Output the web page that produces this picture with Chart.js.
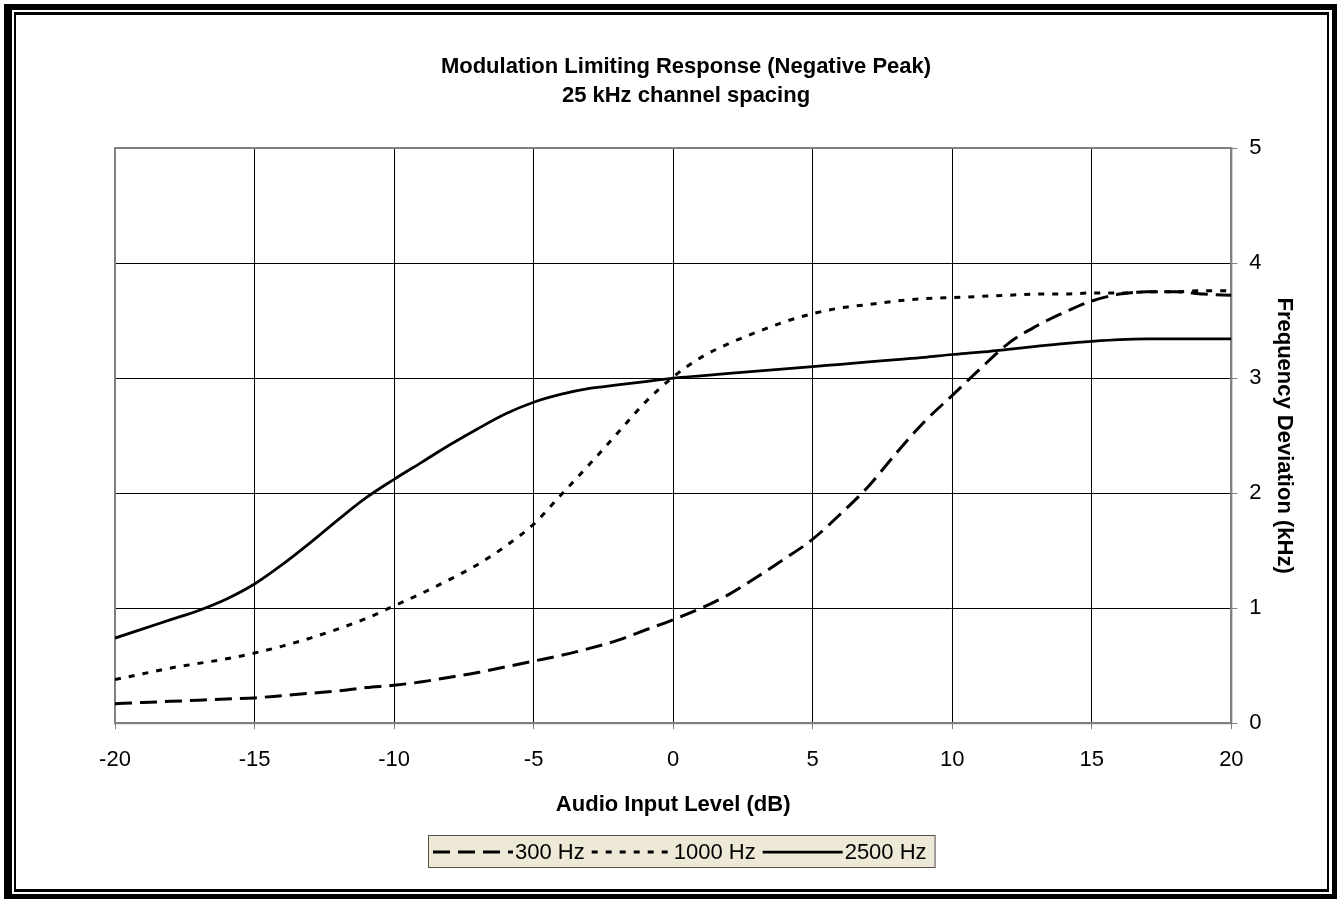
<!DOCTYPE html>
<html lang="en">
<head>
  <meta charset="UTF-8">
  <title>Modulation Limiting Response</title>
  <script src="https://cdn.jsdelivr.net/npm/chart.js"></script>
  <style>
    html, body { margin: 0; padding: 0; background: #fff; }
    #wrap { position: relative; width: 1341px; height: 899px; overflow: hidden; }
    #chart { position: absolute; left: 0; top: 0; }
    /* double frame around the whole chart */
    .outer { position: absolute; left: 4px; top: 4px; width: 1333px; height: 895px; box-sizing: border-box;
             border-style: solid; border-color: #000; border-width: 6px 5px 5px 8px; pointer-events: none; }
    .inner { position: absolute; left: 14px; top: 12px; width: 1315px; height: 880px; box-sizing: border-box;
             border-style: solid; border-color: #000; border-width: 3px 2px 3px 2px; pointer-events: none; }
  </style>
</head>
<body>
  <div id="wrap">
    <canvas id="chart" width="1341" height="899"></canvas>
    <div class="outer"></div>
    <div class="inner"></div>
  </div>

  <script>
    // Audio input level (dB)
    const inputLevels = [-20, -19, -18, -17, -16, -15, -14, -13, -12, -11, -10, -9, -8, -7, -6, -5, -4, -3, -2, -1,
                         0, 1, 2, 3, 4, 5, 6, 7, 8, 9, 10, 11, 12, 13, 14, 15, 16, 17, 18, 19, 20];

    // Frequency deviation (kHz) per tone
    const dev300 = [0.17, 0.18, 0.19, 0.20, 0.21, 0.22, 0.24, 0.26, 0.28, 0.31, 0.33, 0.36, 0.40, 0.44, 0.49, 0.54, 0.59, 0.65, 0.72, 0.81,
                    0.90, 1.00, 1.12, 1.27, 1.43, 1.60, 1.82, 2.06, 2.35, 2.62, 2.85, 3.08, 3.30, 3.45, 3.57, 3.67, 3.73, 3.75, 3.75, 3.73, 3.72];
    const dev1000 = [0.38, 0.43, 0.48, 0.52, 0.56, 0.61, 0.67, 0.74, 0.82, 0.91, 1.02, 1.13, 1.25, 1.38, 1.54, 1.73, 1.99, 2.25, 2.52, 2.79,
                     3.01, 3.18, 3.30, 3.40, 3.49, 3.56, 3.61, 3.64, 3.67, 3.69, 3.70, 3.71, 3.72, 3.73, 3.73, 3.74, 3.74, 3.75, 3.75, 3.76, 3.76];
    const dev2500 = [0.74, 0.82, 0.90, 0.98, 1.08, 1.21, 1.38, 1.57, 1.77, 1.96, 2.12, 2.27, 2.42, 2.56, 2.69, 2.79, 2.86, 2.91, 2.94, 2.97,
                     3.00, 3.02, 3.04, 3.06, 3.08, 3.10, 3.12, 3.14, 3.16, 3.18, 3.205, 3.225, 3.25, 3.275, 3.30, 3.32, 3.335, 3.34, 3.34, 3.34, 3.34];

    const seriesNames = ['300 Hz', '1000 Hz', '2500 Hz'];
    const titleLines = ['Modulation Limiting Response (Negative Peak)', '25 kHz channel spacing'];
    const xRange = [-20, 20];
    const yRange = [0, 5];

    const FONT = '"Liberation Sans", Arial, sans-serif';

    function toPoints(values) {
      return values.map((v, i) => ({ x: inputLevels[i], y: v }));
    }

    // gray frame round the plot area
    const plotFrame = {
      id: 'plotFrame',
      beforeDatasetsDraw(chart) {
        const { ctx, chartArea: a } = chart;
        ctx.save();
        ctx.strokeStyle = '#808080';
        ctx.lineWidth = 2;
        ctx.strokeRect(a.left, a.top, a.right - a.left, a.bottom - a.top);
        ctx.restore();
      }
    };

    // two line chart title, centred on the chart frame like Excel does
    const frameTitle = {
      id: 'frameTitle',
      afterDraw(chart) {
        const ctx = chart.ctx;
        ctx.save();
        ctx.font = 'bold 22px ' + FONT;
        ctx.fillStyle = '#000';
        ctx.textAlign = 'center';
        ctx.textBaseline = 'middle';
        titleLines.forEach((t, i) => ctx.fillText(t, 686, 67 + i * 29));
        ctx.restore();
      }
    };

    // Excel style legend box with line samples
    const boxLegend = {
      id: 'boxLegend',
      afterDraw(chart) {
        const ctx = chart.ctx;
        const x0 = 428, y0 = 835, h = 32;
        const sample = 80;
        ctx.save();
        ctx.font = '22px ' + FONT;
        let w = 6;
        chart.data.datasets.forEach(ds => { w += sample + 2 + ctx.measureText(ds.label).width + 7; });
        ctx.fillStyle = '#EEE8D6';
        ctx.fillRect(x0 + 0.5, y0 + 0.5, w, h);
        ctx.strokeStyle = '#505050';
        ctx.lineWidth = 1;
        ctx.strokeRect(x0 + 0.5, y0 + 0.5, w, h);
        ctx.textBaseline = 'middle';
        const cy = y0 + h / 2 + 1;
        let x = x0 + 5;
        chart.data.datasets.forEach(ds => {
          ctx.beginPath();
          ctx.setLineDash(ds.borderDash || []);
          ctx.lineWidth = ds.borderWidth;
          ctx.strokeStyle = ds.borderColor;
          ctx.moveTo(x, cy);
          ctx.lineTo(x + sample, cy);
          ctx.stroke();
          ctx.setLineDash([]);
          ctx.fillStyle = '#000';
          ctx.fillText(ds.label, x + sample + 2, cy + 1);
          x += sample + 2 + ctx.measureText(ds.label).width + 7;
        });
        ctx.restore();
      }
    };

    const ctx = document.getElementById('chart').getContext('2d');
    new Chart(ctx, {
      type: 'line',
      data: {
        datasets: [
          { label: seriesNames[0], data: toPoints(dev300), borderColor: '#000', borderWidth: 3, borderDash: [17, 8] },
          { label: seriesNames[1], data: toPoints(dev1000), borderColor: '#000', borderWidth: 3, borderDash: [6, 8] },
          { label: seriesNames[2], data: toPoints(dev2500), borderColor: '#000', borderWidth: 2.75 }
        ]
      },
      options: {
        responsive: false,
        animation: false,
        events: [],
        elements: {
          point: { radius: 0 },
          line: { cubicInterpolationMode: 'monotone', fill: false }
        },
        layout: { padding: { left: 115, top: 148, right: 40, bottom: 71 } },
        plugins: {
          legend: { display: false },
          tooltip: { enabled: false },
          title: { display: false }
        },
        scales: {
          x: {
            type: 'linear',
            min: xRange[0],
            max: xRange[1],
            ticks: { stepSize: 5, color: '#000', font: { family: FONT, size: 22 }, padding: 18, maxRotation: 0 },
            grid: { color: '#000', lineWidth: 1, tickLength: 6, tickColor: '#808080' },
            border: { color: '#808080', width: 2 },
            title: { display: true, text: 'Audio Input Level (dB)', color: '#000',
                     font: { family: FONT, size: 22, weight: 'bold' }, padding: { top: 0, bottom: 10 } }
          },
          y: {
            position: 'right',
            min: yRange[0],
            max: yRange[1],
            ticks: { stepSize: 1, color: '#000', font: { family: FONT, size: 22 }, padding: 12 },
            grid: { color: '#000', lineWidth: 1, tickLength: 6, tickColor: '#808080' },
            border: { color: '#808080', width: 2 },
            title: { display: true, text: 'Frequency Deviation (kHz)', color: '#000',
                     font: { family: FONT, size: 22, weight: 'bold' }, padding: { top: 4, bottom: -3 } }
          }
        }
      },
      plugins: [plotFrame, frameTitle, boxLegend]
    });
  </script>
</body>
</html>
